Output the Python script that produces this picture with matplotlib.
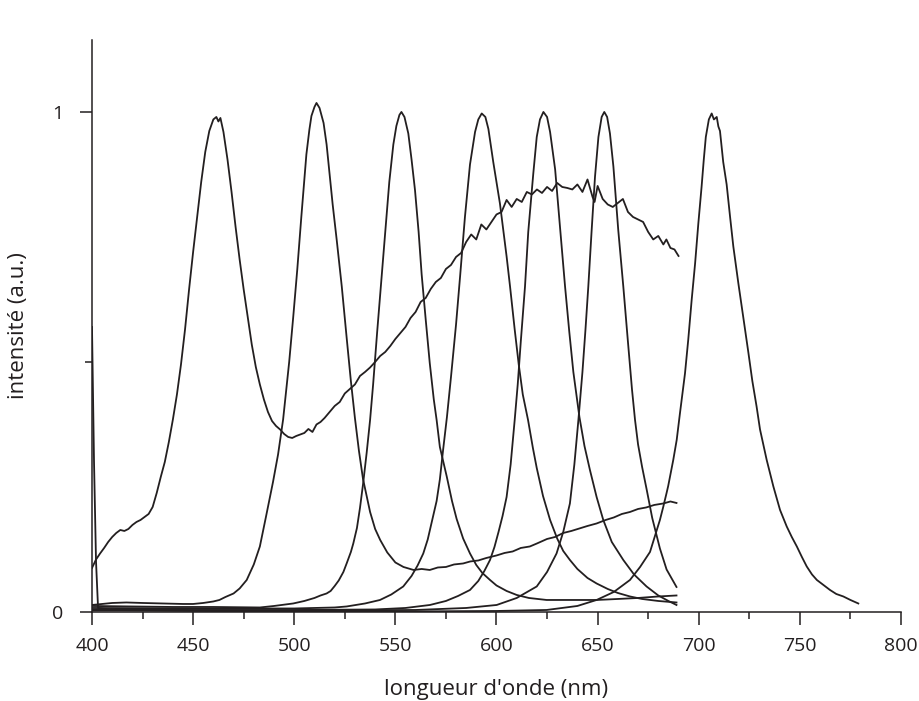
import matplotlib
matplotlib.use('Agg')
import matplotlib.pyplot as plt
from matplotlib.ticker import MultipleLocator, FixedLocator

# white LED: blue peak + broad phosphor band
white_nm = [400, 402, 404, 406, 408, 410, 412, 414, 416, 418, 420, 422, 424, 426, 428, 430,
            432, 434, 436, 438, 440, 442, 444, 446, 448, 450, 452, 454, 456, 458, 460, 461.5,
            462.5, 463.5, 465, 467, 469, 471, 473, 475, 477, 479, 481, 483, 485, 487, 489, 491,
            493, 495, 497, 499, 501, 503, 505, 507, 509, 511, 513, 515, 517.5, 520, 522.5, 525,
            527.5, 530, 532.5, 535, 537.5, 540, 542.5, 545, 547.5, 550, 552.5, 555, 557.5, 560,
            562.5, 565, 567.5, 570, 572.5, 575, 577.5, 580, 582.5, 585, 587.5, 590, 592.5, 595,
            597.5, 600, 602.5, 605, 607.5, 610, 612.5, 615, 617.5, 620, 622.5, 625, 627.5, 630,
            632.5, 635, 637.5, 640, 642.5, 645, 647.5, 648.5, 650, 652.5, 655, 657.5, 660, 662.5,
            665, 667.5, 670, 672.5, 675, 677.5, 680, 682.5, 684, 686, 688, 690]
white_int = [0.088, 0.105, 0.117, 0.128, 0.140, 0.150, 0.158, 0.164, 0.162, 0.166, 0.174, 0.180,
             0.184, 0.190, 0.196, 0.210, 0.238, 0.270, 0.300, 0.340, 0.385, 0.435, 0.495, 0.565,
             0.645, 0.720, 0.790, 0.860, 0.920, 0.962, 0.985, 0.990, 0.981, 0.988, 0.960, 0.905,
             0.840, 0.770, 0.705, 0.645, 0.590, 0.535, 0.490, 0.455, 0.425, 0.400, 0.382, 0.372,
             0.365, 0.356, 0.350, 0.348, 0.352, 0.355, 0.358, 0.366, 0.360, 0.375, 0.380, 0.388,
             0.400, 0.412, 0.420, 0.437, 0.446, 0.455, 0.472, 0.480, 0.489, 0.500, 0.512, 0.520,
             0.532, 0.546, 0.558, 0.570, 0.588, 0.600, 0.620, 0.628, 0.646, 0.660, 0.668, 0.686,
             0.694, 0.710, 0.718, 0.740, 0.755, 0.745, 0.775, 0.765, 0.780, 0.795, 0.800, 0.824,
             0.810, 0.826, 0.820, 0.840, 0.835, 0.845, 0.838, 0.850, 0.842, 0.858, 0.850, 0.848,
             0.845, 0.855, 0.840, 0.865, 0.830, 0.820, 0.852, 0.826, 0.815, 0.810, 0.818, 0.826,
             0.800, 0.790, 0.785, 0.780, 0.760, 0.745, 0.752, 0.735, 0.745, 0.728, 0.725, 0.712]

# green LED, 511 nm, with slowly rising tail
green_nm = [400, 410, 417, 425, 435, 445, 450, 455, 460, 463, 466, 470, 473, 476.5, 480, 483, 486,
            489.5, 492, 494.5, 497.5, 499.5, 501.5, 503.5, 505, 506, 507.5, 508.5, 510, 511, 512.5,
            514.5, 516, 517.5, 519, 521, 523.5, 526, 528, 530, 532, 534, 537.5, 540, 542.5, 546,
            550, 554, 559, 563, 567, 571, 575, 579, 583.5, 587, 591, 595, 600, 604, 608, 612,
            616.5, 620, 625, 629, 633, 637, 641, 645, 649.5, 654, 658, 662, 666, 670, 674, 678,
            682.5, 686, 689]
green_int = [0.014, 0.018, 0.019, 0.018, 0.017, 0.016, 0.016, 0.018, 0.021, 0.024, 0.030, 0.037,
             0.047, 0.064, 0.095, 0.131, 0.190, 0.260, 0.315, 0.385, 0.500, 0.590, 0.685, 0.790,
             0.865, 0.915, 0.965, 0.992, 1.010, 1.018, 1.008, 0.978, 0.935, 0.875, 0.815, 0.744,
             0.651, 0.545, 0.462, 0.388, 0.322, 0.266, 0.200, 0.166, 0.144, 0.119, 0.099, 0.090,
             0.084, 0.086, 0.084, 0.089, 0.090, 0.095, 0.097, 0.101, 0.103, 0.108, 0.113, 0.118,
             0.121, 0.128, 0.131, 0.137, 0.146, 0.150, 0.158, 0.162, 0.167, 0.172, 0.177, 0.184,
             0.189, 0.196, 0.200, 0.206, 0.209, 0.214, 0.217, 0.221, 0.218]

# 553 nm
c553_nm = [400, 420, 440, 460, 483, 490, 499.5, 505, 510, 513, 516, 518, 520, 522, 524.3, 526,
           528, 529.2, 531, 532.5, 534, 535.8, 537.5, 539, 541, 543.2, 544.5, 545.7, 547, 549,
           550.5, 552, 553, 554.5, 556.4, 558, 559.7, 561.5, 563, 565, 567, 569, 570.4, 572,
           575.4, 578, 580.3, 583.5, 586.9, 590, 593, 596.8, 600, 605, 610, 616, 624.8, 635,
           649.5, 660, 670, 680, 689]
c553_int = [0.012, 0.011, 0.010, 0.010, 0.009, 0.012, 0.017, 0.022, 0.028, 0.033, 0.037, 0.042,
            0.052, 0.063, 0.080, 0.098, 0.120, 0.137, 0.168, 0.208, 0.255, 0.318, 0.384, 0.455,
            0.560, 0.670, 0.735, 0.795, 0.860, 0.935, 0.972, 0.994, 1.000, 0.990, 0.957, 0.905,
            0.844, 0.760, 0.675, 0.585, 0.498, 0.425, 0.384, 0.330, 0.271, 0.222, 0.186, 0.147,
            0.117, 0.094, 0.078, 0.064, 0.053, 0.042, 0.034, 0.028, 0.024, 0.024, 0.024, 0.026,
            0.028, 0.031, 0.033]

# 593 nm
c593_nm = [400, 450, 500, 520, 525.9, 535, 542.4, 548, 553.9, 558, 561, 563.8, 566, 568, 570.4,
           572, 573.6, 575.5, 577.5, 580, 582, 584.4, 586.9, 589.4, 591, 592.7, 594.5, 596, 598.4,
           601.7, 605, 606.7, 609, 611, 613, 615.6, 618, 619.9, 623, 626.5, 630, 633, 636.3, 640,
           645, 649.5, 655, 660, 666, 672, 680, 689]
c593_int = [0.008, 0.007, 0.007, 0.009, 0.011, 0.017, 0.024, 0.035, 0.051, 0.072, 0.093, 0.117,
            0.145, 0.180, 0.222, 0.265, 0.324, 0.390, 0.470, 0.575, 0.671, 0.790, 0.895, 0.960,
            0.985, 0.997, 0.990, 0.966, 0.900, 0.817, 0.711, 0.651, 0.565, 0.495, 0.435, 0.384,
            0.328, 0.288, 0.232, 0.184, 0.147, 0.122, 0.104, 0.086, 0.068, 0.057, 0.046, 0.038,
            0.031, 0.026, 0.022, 0.019]

# 623 nm
c623_nm = [400, 450, 500, 540, 555, 567.1, 575, 581, 586.9, 591, 594, 596.8, 599, 601, 603, 605,
           607, 609, 610.5, 612, 614.1, 615.7, 618.2, 619.9, 621.5, 623.2, 625, 626.5, 629, 631.4,
           633.9, 636, 638, 641, 643.5, 646.2, 649.5, 652.8, 657, 662.7, 668, 674.2, 680, 685,
           689]
c623_int = [0.005, 0.004, 0.004, 0.005, 0.008, 0.014, 0.022, 0.032, 0.044, 0.062, 0.082, 0.104,
            0.130, 0.160, 0.192, 0.230, 0.295, 0.384, 0.455, 0.540, 0.651, 0.760, 0.877, 0.950,
            0.985, 1.000, 0.990, 0.960, 0.885, 0.770, 0.651, 0.560, 0.480, 0.390, 0.332, 0.284,
            0.230, 0.184, 0.140, 0.104, 0.075, 0.051, 0.033, 0.022, 0.014]

# 653 nm
c653_nm = [400, 500, 560, 585, 600.1, 610, 619.9, 625, 629.7, 633, 636.3, 638.5, 640.5, 642.5,
           644, 645.4, 647, 648.7, 650.4, 652, 653.3, 654.7, 656.1, 657.8, 660.2, 662.7, 665, 667,
           668.5, 670, 672, 674.2, 677, 680.8, 684.1, 689]
c653_int = [0.003, 0.003, 0.004, 0.008, 0.014, 0.028, 0.051, 0.080, 0.117, 0.160, 0.217, 0.295,
            0.384, 0.480, 0.565, 0.651, 0.760, 0.870, 0.950, 0.990, 1.000, 0.990, 0.957, 0.891,
            0.764, 0.651, 0.540, 0.445, 0.384, 0.335, 0.290, 0.246, 0.188, 0.127, 0.085, 0.050]

# 707 nm (with the spike at 400 nm)
c707_nm = [400, 401, 402, 403, 410, 450, 500, 550, 600, 624.8, 640, 649.5, 658, 666, 671, 675.9,
           680.8, 682.5, 684.1, 684.9, 687.4, 689.1, 690.7, 693.2, 694.8, 696.5, 698.2, 699.8,
           701.4, 702.5, 703.5, 705, 706.4, 707.5, 708.9, 709.7, 710.5, 712.1, 713.8, 715.5,
           717.1, 719.6, 722, 724.5, 726.5, 728.6, 730.3, 733.6, 736.9, 740.2, 743.5, 746,
           748.5, 751, 753.4, 756, 758.4, 761, 764.9, 768, 771.5, 775, 778.9]
c707_int = [0.570, 0.300, 0.100, 0.008, 0.004, 0.002, 0.001, 0.001, 0.002, 0.004, 0.012, 0.024,
            0.040, 0.064, 0.090, 0.120, 0.184, 0.211, 0.238, 0.252, 0.304, 0.344, 0.397, 0.477,
            0.544, 0.624, 0.697, 0.777, 0.850, 0.905, 0.950, 0.985, 0.997, 0.985, 0.990, 0.971,
            0.962, 0.900, 0.855, 0.790, 0.731, 0.657, 0.590, 0.520, 0.462, 0.411, 0.365, 0.304,
            0.251, 0.204, 0.171, 0.150, 0.131, 0.110, 0.091, 0.075, 0.064, 0.056, 0.044, 0.036,
            0.031, 0.024, 0.017]

x_ticks = [400, 450, 500, 550, 600, 650, 700, 750, 800]
y_ticks = [0, 1]
x_label = "longueur d'onde (nm)"
y_label = "intensité (a.u.)"

ink = '#231f20'
plt.rcParams['font.family'] = ['Open Sans', 'DejaVu Sans']

fig = plt.figure(figsize=(9.19, 7.01), dpi=100)
ax = fig.add_axes([0.1001, 0.127, 0.8803, 0.816])

spectra = [(white_nm, white_int), (green_nm, green_int), (c553_nm, c553_int),
           (c593_nm, c593_int), (c623_nm, c623_int), (c653_nm, c653_int), (c707_nm, c707_int)]
for nm, val in spectra:
    ax.plot(nm, val, color=ink, lw=1.3, solid_joinstyle='round')

ax.set_xlim(400, 800)
ax.set_ylim(0, 1.144)
ax.spines['top'].set_visible(False)
ax.spines['right'].set_visible(False)
for side in ('left', 'bottom'):
    ax.spines[side].set_color(ink)
    ax.spines[side].set_linewidth(1.1)

ax.xaxis.set_major_locator(FixedLocator(x_ticks))
ax.xaxis.set_minor_locator(MultipleLocator(25))
ax.yaxis.set_major_locator(FixedLocator(y_ticks))
ax.yaxis.set_minor_locator(FixedLocator([0.5]))
ax.tick_params(which='major', length=9, width=1.1, color=ink, labelsize=14, labelcolor=ink)
ax.tick_params(which='minor', length=4.8, width=1.1, color=ink)
ax.tick_params(axis='x', which='major', pad=9)
ax.tick_params(axis='y', which='major', pad=12)

ax.set_xlabel(x_label, fontsize=16, color=ink, labelpad=17)
ax.set_ylabel(y_label, fontsize=16, color=ink, labelpad=16)

fig.savefig('out.png', dpi=100)
